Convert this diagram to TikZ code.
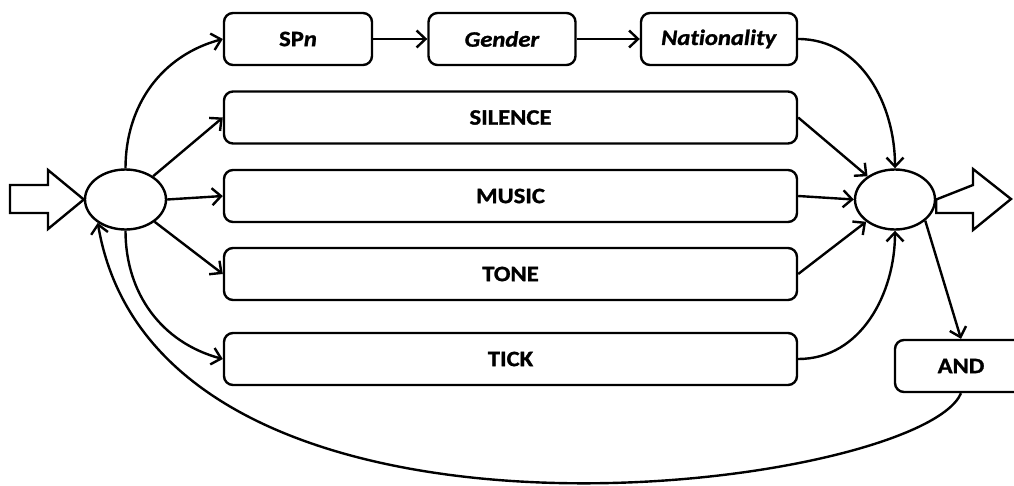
\documentclass[tikz,border=0pt]{standalone}
\usepackage{fontspec}
\setmainfont{Carlito}[Ligatures=NoCommon, FakeStretch=1.12, FakeBold=1.2]
\usetikzlibrary{arrows.meta,shapes.geometric}
\tikzset{
  box/.style={draw, line width=2.4pt, rounded corners=9pt, inner sep=0pt,
    minimum height=52pt, font=\fontsize{22}{26}\selectfont\bfseries},
  oval/.style={draw, ellipse, line width=2.4pt, inner sep=0pt, minimum width=81pt, minimum height=60pt},
  arr/.style={line width=2.4pt, -{Straight Barb[length=9pt,width=17pt,line width=2.4pt]}},
  bigarrow/.style={draw, line width=2.4pt, fill=white, line join=miter},
}
\begin{document}
\begin{tikzpicture}[x=1pt,y=-1pt]
\useasboundingbox (0,0) rectangle (1014,485);
% boxes
\node[box, minimum width=148pt] (spn) at (298,39) {SP\textit{n}};
\node[box, minimum width=147pt] (gen) at (502,39) {\textit{Gender}};
\node[box, minimum width=156pt] (nat) at (719,39) {\textit{Nat\kern0pt ionality}};
\node[box, minimum width=573pt] (sil) at (510.5,117.5) {SILENCE};
\node[box, minimum width=573pt] (mus) at (510.5,196) {MUSIC};
\node[box, minimum width=573pt] (ton) at (510.5,274) {TONE};
\node[box, minimum width=573pt] (tic) at (510.5,359) {TICK};
\node[box, minimum width=132pt] (and) at (961,366) {AND};
% ellipses
\node[oval] (L) at (125.5,199.5) {};
\node[oval, minimum width=80pt] (R) at (895,199.5) {};
% block arrows
\draw[bigarrow] (10,185) -- (48,185) -- (48,170) -- (L.west) -- (48,229) -- (48,213) -- (10,213) -- cycle;
\draw[bigarrow] (R.east) -- (973,185) -- (973,169) -- (1011,199) -- (973,230) -- (973,213) -- (R.east |- 0,213) -- cycle;
% left fan-out
\draw[arr] (L.north) to[out=90, in=195] (spn.west);
\draw[arr] (L) -- (sil.west);
\draw[arr] (L.east) -- (mus.west);
\draw[arr] (L) -- (ton.west);
\draw[arr] (L.south) to[out=-90, in=165] (tic.west);
% chain
\draw[arr] (spn) -- (gen);
\draw[arr] (gen) -- (nat);
% right fan-in
\draw[arr] (nat.east) to[out=0, in=90] (R.north);
\draw[arr] (sil.east) -- (R);
\draw[arr] (mus.east) -- (R.west);
\draw[arr] (ton.east) -- (R);
\draw[arr] (tic.east) to[out=0, in=-90] (R.south);
\draw[arr] (R.-35) -- (and.north);
% feedback
\draw[arr] (and.south) .. controls (920,490) and (160,590) .. (L.220);
\end{tikzpicture}
\end{document}
